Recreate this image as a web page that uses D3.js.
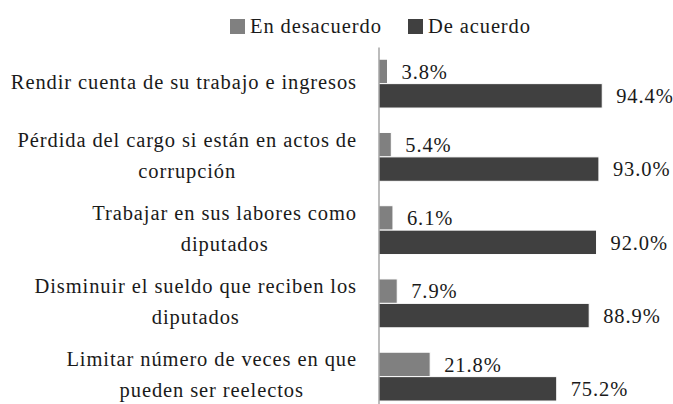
<!DOCTYPE html>
<html>
<head>
<meta charset="utf-8">
<script src="https://cdn.jsdelivr.net/npm/d3@7/dist/d3.min.js"></script>
<style>
  html, body { margin: 0; padding: 0; background: #fff; }
  svg { display: block; }
</style>
</head>
<body>
<div id="chart"></div>
<script>
// Survey items (each entry is one label, split into its printed lines)
const categoryLines = [
  ["Rendir cuenta de su trabajo e ingresos"],
  ["Pérdida del cargo si están en actos de", "corrupción"],
  ["Trabajar en sus labores como", "diputados"],
  ["Disminuir el sueldo que reciben los", "diputados"],
  ["Limitar número de veces en que", "pueden ser reelectos"]
];
const categories = categoryLines.map(l => l.join(" "));

const seriesNames = ["En desacuerdo", "De acuerdo"];
const desacuerdo = [3.8, 5.4, 6.1, 7.9, 21.8];
const deAcuerdo = [94.4, 93.0, 92.0, 88.9, 75.2];
const seriesColors = ["#808080", "#404040"];

const W = 673, H = 404;
const FONT = "\"Liberation Serif\"";
const FS = 20.5, LS = "0.9px";

const svg = d3.select("#chart").append("svg")
  .attr("width", W).attr("height", H);

const plotTop = 47, plotBottom = 413.25;
const x0 = 378.5;

const x = d3.scaleLinear().domain([0, 100]).range([x0, x0 + 237]);
const y = d3.scaleBand().domain(categories).range([plotTop, plotBottom]);
const ySeries = d3.scaleBand().domain(seriesNames).range([0, y.bandwidth()]).paddingOuter(0.5);

const rows = categories.map((c, i) => ({
  cat: c,
  lines: categoryLines[i],
  values: [desacuerdo[i], deAcuerdo[i]]
}));

function styleText(sel) {
  return sel.style("font-family", FONT)
    .attr("font-size", FS)
    .style("letter-spacing", LS)
    .attr("fill", "#1a1a1a");
}

// Bars
const group = svg.append("g").selectAll("g.row")
  .data(rows).join("g")
  .attr("class", "row")
  .attr("transform", d => `translate(0,${y(d.cat)})`);

group.selectAll("rect")
  .data(d => d.values.map((v, k) => ({ v, k })))
  .join("rect")
  .attr("x", x(0))
  .attr("y", d => ySeries(seriesNames[d.k]))
  .attr("width", d => x(d.v) - x(0))
  .attr("height", ySeries.bandwidth())
  .attr("fill", d => seriesColors[d.k])
  .attr("stroke", "#ffffff")
  .attr("stroke-width", 1);

// Value labels
group.selectAll("text.val")
  .data(d => d.values.map((v, k) => ({ v, k })))
  .join("text")
  .attr("class", "val")
  .attr("x", d => x(d.v) + 14)
  .attr("y", d => ySeries(seriesNames[d.k]) + ySeries.bandwidth() / 2)
  .attr("dy", "0.35em")
  .call(styleText)
  .text(d => d.v.toFixed(1) + "%");

// Category axis line
const axis = svg.append("g")
  .attr("transform", `translate(${x0},0)`)
  .call(d3.axisLeft(y).tickSize(0).tickSizeOuter(0).tickFormat(""));
axis.select(".domain").attr("stroke", "#a6a6a6").attr("stroke-width", 1.5);

// Category labels: each block right-aligned, lines centered within it
const labelRight = 357, lineH = 31;
rows.forEach(r => {
  const g = svg.append("g");
  const cy = y(r.cat) + y.bandwidth() / 2;
  const n = r.lines.length;
  const texts = r.lines.map((line, i) =>
    g.append("text")
      .call(styleText)
      .attr("text-anchor", "middle")
      .attr("y", cy + (i - (n - 1) / 2) * lineH)
      .attr("dy", "0.25em")
      .text(line));
  const maxW = d3.max(texts, t => t.node().getComputedTextLength());
  texts.forEach(t => t.attr("x", labelRight - maxW / 2));
});

// Legend
const legendItems = [
  { name: seriesNames[0], color: seriesColors[0], x: 230 },
  { name: seriesNames[1], color: seriesColors[1], x: 408 }
];
const legend = svg.append("g").selectAll("g")
  .data(legendItems).join("g")
  .attr("transform", d => `translate(${d.x},19)`);
legend.append("rect")
  .attr("width", 15).attr("height", 15)
  .attr("fill", d => d.color);
legend.append("text")
  .attr("x", 20).attr("y", 14)
  .call(styleText)
  .text(d => d.name);
</script>
</body>
</html>
